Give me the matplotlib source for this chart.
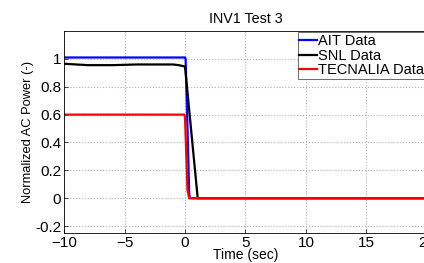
import matplotlib.pyplot as plt

plt.rcParams['font.family'] = ['Liberation Sans', 'DejaVu Sans']

# AIT data
ait_t = [-10, -5, 0.0, 0.05, 0.35, 0.4, 20]
ait_p = [1.01, 1.01, 1.01, 1.0, 0.03, 0.0, 0.0]

# SNL data
snl_t = [-10, -8, -6, -4, -2, -1, -0.5, 0.0, 1.05, 20]
snl_p = [0.965, 0.955, 0.955, 0.96, 0.96, 0.96, 0.955, 0.945, 0.0, 0.0]

# TECNALIA data
tec_t = [-10, -5, -0.05, 0.0, 0.2, 0.35, 20]
tec_p = [0.6, 0.6, 0.6, 0.58, 0.06, 0.0, 0.0]

fig = plt.figure(figsize=(4.24, 2.63), dpi=100)
ax = fig.add_axes([0.151, 0.114, 0.856, 0.768])

ax.plot(ait_t, ait_p, color='blue', lw=1.6, label='AIT Data')
ax.plot(snl_t, snl_p, color='black', lw=1.6, label='SNL Data')
ax.plot(tec_t, tec_p, color='red', lw=1.6, label='TECNALIA Data')

ax.set_xlim(-10, 20)
ax.set_ylim(-0.25, 1.2)
ax.set_xticks([-10, -5, 0, 5, 10, 15, 20])
ax.set_yticks([-0.2, 0, 0.2, 0.4, 0.6, 0.8, 1])
ax.set_yticklabels(['-0.2', '0', '0.2', '0.4', '0.6', '0.8', '1'])
ax.grid(True, color='#b0b0b0', linestyle=':', linewidth=0.8)
ax.tick_params(labelsize=11, direction='in', length=3, width=0.5, pad=2)
for s in ax.spines.values():
    s.set_linewidth(0.6)

ax.set_xlabel('Time (sec)', fontsize=10, labelpad=-1)
ax.set_ylabel('Normalized AC Power (-)', fontsize=9.3, labelpad=1)
ax.set_title('INV1 Test 3', fontsize=10.3, pad=6)

leg = ax.legend(loc='upper right', fontsize=10.5, handlelength=1.2, handletextpad=0.1,
                borderpad=0.1, labelspacing=0.05, borderaxespad=0.1,
                fancybox=False, framealpha=1, edgecolor='#555555')
leg.get_frame().set_linewidth(0.6)

fig.savefig('out.png', dpi=100)
